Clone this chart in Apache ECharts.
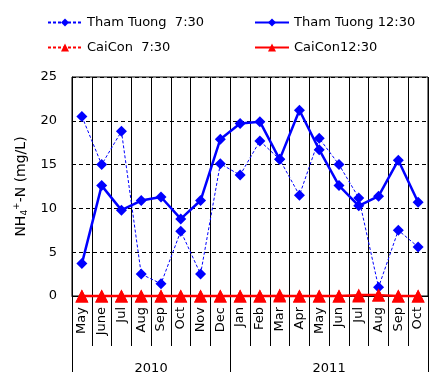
<!DOCTYPE html>
<html><head><meta charset="utf-8">
<script src="https://cdn.jsdelivr.net/npm/echarts@6/dist/echarts.min.js"></script>
<style>html,body{margin:0;padding:0;background:#fff}#c{width:437px;height:375px}</style>
</head><body><div id="c"></div>
<script>
const months = ['May','June','Jul','Aug','Sep','Oct','Nov','Dec','Jan','Feb','Mar','Apr','May','Jun','Jul','Aug','Sep','Oct'];
const years = ['2010','2011'];
const yearBounds = [0, 8, 18];
const yearCenters = [4, 13];
const thamTuong730 = [20.5,15.0,18.8,2.5,1.4,7.4,2.5,15.1,13.8,17.7,15.6,11.5,18.0,15.0,11.2,1.0,7.5,5.6];
const thamTuong1230 = [3.7,12.6,9.8,10.9,11.3,8.8,10.9,17.9,19.7,19.9,15.6,21.2,16.7,12.6,10.3,11.4,15.5,10.7];
const caiCon730 = [0,0,0,0,0,0,0,0,0,0,0.1,0,0,0,0,0.1,0,0];
const caiCon1230 = [0,0,0,0,0,0,0,0,0,0,0,0,0,0,0.1,0.1,0,0];
const yTicks = [0,5,10,15,20,25];

const chart = echarts.init(document.getElementById('c'), null, {renderer:'canvas'});
const font = 'DejaVu Sans';
const legendText = {fontFamily: font, fontSize: 13, color: '#000'};
chart.setOption({
  animation: false,
  backgroundColor: '#fff',
  textStyle: {fontFamily: font},
  legend: [
    {data:['Tham Tuong  7:30','CaiCon  7:30'], orient:'vertical', left:47, top:16, padding:0, itemWidth:34, itemHeight:10, itemGap:12, textStyle:legendText},
    {data:['Tham Tuong 12:30','CaiCon12:30'], orient:'vertical', left:254, top:16, padding:0, itemWidth:34, itemHeight:10, itemGap:12, textStyle:legendText}
  ],
  grid: {left:72, right:9, top:77, bottom:79, show:true, borderColor:'#000', borderWidth:1, backgroundColor:'transparent'},
  xAxis: [
    {type:'category', data:months, boundaryGap:true, position:'bottom',
     axisLine:{show:true, lineStyle:{color:'#000', width:1}},
     axisTick:{show:true, interval:0, length:50, lineStyle:{color:'#000'}},
     splitLine:{show:true, interval:0, lineStyle:{color:'#000', width:1, type:'solid'}},
     axisLabel:{interval:0, rotate:90, margin:11, fontSize:13, color:'#000', fontFamily:font}},
    {type:'value', min:0, max:18, position:'bottom',
     axisLine:{show:false}, splitLine:{show:false},
     axisTick:{show:true, length:76, customValues:yearBounds, lineStyle:{color:'#000'}},
     axisLabel:{show:true, customValues:yearCenters, margin:66, fontSize:13, color:'#000', fontFamily:font,
       formatter: v => years[yearCenters.indexOf(v)]}}
  ],
  yAxis: {type:'value', min:0, max:25, interval:5,
    name:'NH{sub|4}{sup|+}-N (mg/L)', nameLocation:'middle', nameRotate:90, nameGap:36,
    nameTextStyle:{fontSize:14, color:'#000', fontFamily:font,
      rich:{sub:{fontSize:9, verticalAlign:'bottom', padding:[8,0,0,0], fontFamily:font, color:'#000'},
            sup:{fontSize:9, verticalAlign:'top', padding:[0,0,8,0], fontFamily:font, color:'#000'}}},
    axisLine:{show:true, lineStyle:{color:'#000'}}, axisTick:{show:false},
    splitLine:{show:true, lineStyle:{color:'#000', type:[4,3], width:1}},
    axisLabel:{fontSize:13, color:'#000', margin:15, fontFamily:font}},
  series: [
    {name:'Tham Tuong  7:30', type:'line', data:thamTuong730, xAxisIndex:0, symbol:'diamond', symbolSize:11, clip:false, z:3,
     itemStyle:{color:'#0000ff'}, lineStyle:{color:'#0000ff', width:1, type:[3,2]}},
    {name:'Tham Tuong 12:30', type:'line', data:thamTuong1230, xAxisIndex:0, symbol:'diamond', symbolSize:11, clip:false, z:3,
     itemStyle:{color:'#0000ff'}, lineStyle:{color:'#0000ff', width:2.5}},
    {name:'CaiCon  7:30', type:'line', data:caiCon730, xAxisIndex:0, symbol:'triangle', symbolSize:13, clip:false, z:4,
     itemStyle:{color:'#ff0000'}, lineStyle:{color:'#ff0000', width:1, type:[3,2]}},
    {name:'CaiCon12:30', type:'line', data:caiCon1230, xAxisIndex:0, symbol:'triangle', symbolSize:13, clip:false, z:4,
     itemStyle:{color:'#ff0000'}, lineStyle:{color:'#ff0000', width:2.5}}
  ]
});
</script></body></html>
